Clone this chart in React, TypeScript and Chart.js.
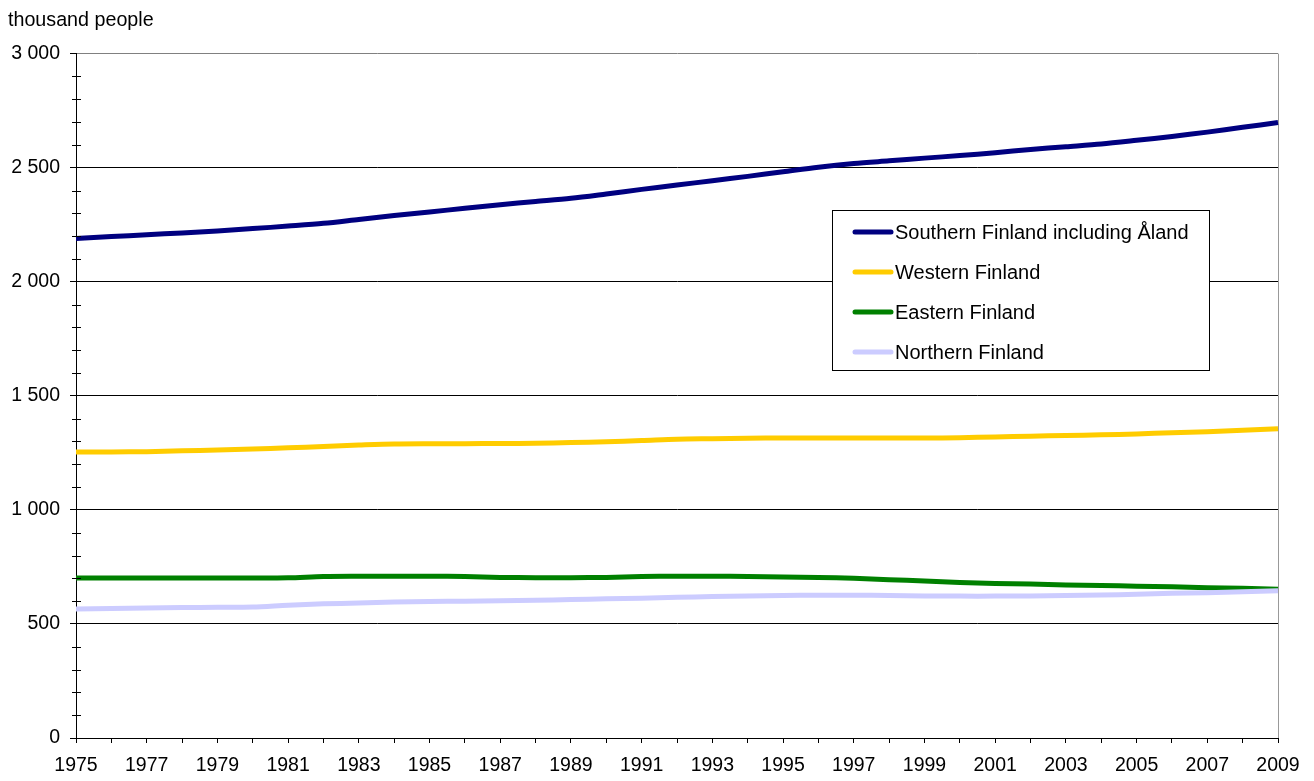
import React, { useEffect, useRef } from "react";
import { Chart, registerables } from "chart.js";

Chart.register(...registerables);

const years = [
  "1975", "1976", "1977", "1978", "1979", "1980", "1981", "1982", "1983", "1984",
  "1985", "1986", "1987", "1988", "1989", "1990", "1991", "1992", "1993", "1994",
  "1995", "1996", "1997", "1998", "1999", "2000", "2001", "2002", "2003", "2004",
  "2005", "2006", "2007", "2008", "2009",
];

const southern = [
  2190, 2198, 2206, 2214, 2223, 2233, 2244, 2256, 2273, 2290,
  2306, 2322, 2338, 2352, 2366, 2385, 2405, 2424, 2443, 2462,
  2482, 2502, 2518, 2530, 2542, 2553, 2566, 2580, 2592, 2604,
  2620, 2637, 2656, 2677, 2698,
];

const western = [
  1254, 1254, 1255, 1259, 1262, 1267, 1272, 1278, 1284, 1289,
  1290, 1290, 1291, 1292, 1295, 1299, 1304, 1310, 1312, 1314,
  1315, 1315, 1315, 1315, 1315, 1316, 1320, 1323, 1326, 1329,
  1333, 1338, 1343, 1349, 1356,
];

const eastern = [
  701, 701, 701, 701, 701, 701, 702, 708, 709, 709,
  709, 708, 704, 703, 703, 704, 708, 709, 709, 708,
  706, 704, 700, 694, 688, 682, 677, 675, 671, 669,
  665, 663, 659, 657, 652,
];

const northern = [
  565, 568, 570, 572, 573, 574, 582, 588, 592, 596,
  598, 600, 602, 604, 607, 610, 613, 617, 620, 623,
  625, 626, 626, 625, 623, 622, 622, 623, 625, 627,
  630, 634, 637, 641, 645,
];

const seriesNames = [
  "Southern Finland including Åland",
  "Western Finland",
  "Eastern Finland",
  "Northern Finland",
];
const seriesColors = ["#000080", "#FFCC00", "#008000", "#CCCCFF"];
const seriesValues = [southern, western, eastern, northern];

const yTitle = "thousand people";
const yMin = 0;
const yMax = 3000;
const yStep = 500;
const yMinorStep = 100;

const FONT_FAMILY = '"Liberation Sans", Arial, Helvetica, sans-serif';
const TICK_SIZE = 19.5;
const LEGEND_SIZE = 20;

const formatThousands = (v: number) =>
  String(v).replace(/\B(?=(\d{3})+(?!\d))/g, " ");

const minorTicksPlugin = {
  id: "minorTicks",
  afterDraw(chart: any) {
    const y = chart.scales.y;
    const ctx = chart.ctx;
    const x0 = chart.chartArea.left;
    ctx.save();
    ctx.strokeStyle = "#000";
    ctx.lineWidth = 1;
    for (let v = yMin + yMinorStep; v < yMax; v += yMinorStep) {
      if (v % yStep === 0) continue;
      const py = Math.round(y.getPixelForValue(v)) + 0.5;
      ctx.beginPath();
      ctx.moveTo(x0 - 4, py);
      ctx.lineTo(x0 + 5, py);
      ctx.stroke();
    }
    ctx.restore();
  },
};

const boxLegendPlugin = {
  id: "boxLegend",
  afterDraw(chart: any) {
    const ctx = chart.ctx;
    const left = 832;
    const top = 210;
    const w = 377;
    const h = 160;
    ctx.save();
    ctx.fillStyle = "#fff";
    ctx.fillRect(left, top, w, h);
    ctx.strokeStyle = "#000";
    ctx.lineWidth = 1;
    ctx.strokeRect(left + 0.5, top + 0.5, w, h);
    ctx.font = `${LEGEND_SIZE}px ${FONT_FAMILY}`;
    ctx.textBaseline = "middle";
    ctx.fillStyle = "#000";
    chart.data.datasets.forEach((ds: any, i: number) => {
      const cy = top + 22 + i * 40;
      ctx.beginPath();
      ctx.strokeStyle = ds.borderColor;
      ctx.lineWidth = 5;
      ctx.lineCap = "round";
      ctx.moveTo(left + 23, cy);
      ctx.lineTo(left + 59, cy);
      ctx.stroke();
      ctx.fillText(ds.label, left + 63, cy + 1);
    });
    ctx.restore();
  },
};

export default function App() {
  const canvasRef = useRef<HTMLCanvasElement | null>(null);

  useEffect(() => {
    if (!canvasRef.current) return;
    const last = years.length - 1;
    const chart = new Chart(canvasRef.current, {
      type: "line",
      data: {
        labels: years,
        datasets: seriesValues.map((vals, i) => ({
          label: seriesNames[i],
          data: vals,
          borderColor: seriesColors[i],
          backgroundColor: seriesColors[i],
          borderWidth: 5,
          pointRadius: 0,
          pointHoverRadius: 0,
          tension: 0.3,
          fill: false,
          order: seriesValues.length - i,
        })),
      },
      options: {
        animation: false,
        responsive: true,
        maintainAspectRatio: false,
        events: [],
        layout: { padding: { left: 8, right: 36, top: 8, bottom: 0 } },
        plugins: {
          legend: { display: false },
          tooltip: { enabled: false },
          title: {
            display: true,
            text: yTitle,
            align: "start",
            color: "#000",
            font: { family: FONT_FAMILY, size: 19.7, weight: "normal" },
            padding: { top: 1, bottom: 21 },
          },
        },
        scales: {
          x: {
            type: "category",
            offset: false,
            grid: {
              color: (c: any) => (c.index === last ? "#999999" : "rgba(0,0,0,0)"),
              tickColor: "#000",
              tickLength: 5,
              lineWidth: 1,
              drawOnChartArea: true,
            },
            border: { color: "#000", width: 1 },
            ticks: {
              autoSkip: false,
              maxRotation: 0,
              minRotation: 0,
              color: "#000",
              padding: 11,
              font: { family: FONT_FAMILY, size: TICK_SIZE },
              callback: (_v: any, i: number) => (i % 2 === 0 ? years[i] : ""),
            },
            afterFit: (s: any) => {
              s.height = 43;
              s.paddingLeft = 0;
              s.paddingRight = 0;
            },
          },
          y: {
            min: yMin,
            max: yMax,
            grid: {
              color: (c: any) => (c.tick && c.tick.value === yMax ? "#808080" : "#000"),
              tickColor: "#000",
              tickLength: 6,
              lineWidth: 1,
            },
            border: { color: "#000", width: 1 },
            ticks: {
              stepSize: yStep,
              color: "#000",
              padding: 10,
              font: { family: FONT_FAMILY, size: TICK_SIZE },
              callback: (v: any) => formatThousands(Number(v)),
            },
            afterFit: (s: any) => {
              s.width = 68;
              s.paddingTop = 0;
              s.paddingBottom = 0;
            },
          },
        },
      },
      plugins: [minorTicksPlugin, boxLegendPlugin],
    } as any);
    return () => chart.destroy();
  }, []);

  return (
    <div style={{ position: "relative", width: "1314px", height: "781px", margin: "-8px" }}>
      <canvas ref={canvasRef} />
    </div>
  );
}
